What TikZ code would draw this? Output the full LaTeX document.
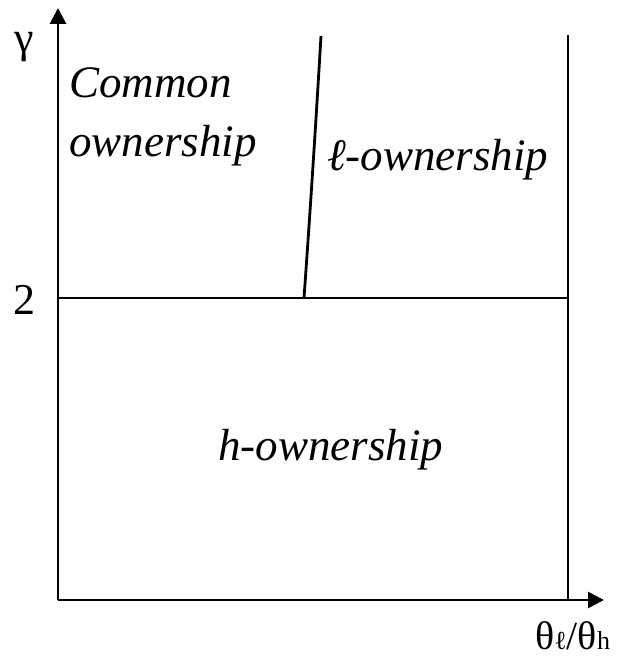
\documentclass[tikz,border=0pt]{standalone}
\usepackage{fontspec}
\setmainfont{Liberation Serif}
\usetikzlibrary{arrows.meta}
\begin{document}
\begin{tikzpicture}[x=1pt,y=-1pt,
  ln/.style={line width=2.8pt},
  axis/.style={ln,-{Triangle[length=16pt,width=16pt]}},
  lbl/.style={font=\fontsize{45}{59}\selectfont\itshape,align=left,inner sep=0pt,anchor=base west},
  ax/.style={font=\fontsize{44}{50}\selectfont,inner sep=0pt}]
\useasboundingbox (0,0) rectangle (626,658);
\coordinate (O) at (58,600);
\coordinate (ytip) at (58,8);
\coordinate (xtip) at (604,600);
\coordinate (rtop) at (568,35);
\coordinate (rbot) at (568,600);
\coordinate (mleft) at (58,298);
\coordinate (mright) at (568,298);
\coordinate (cbot) at (304,298);
\coordinate (ctop) at (321,36);
\draw[axis] (O) -- (ytip);
\draw[axis] (O) -- (xtip);
\draw[ln] (rbot) -- (rtop);
\draw[ln] (mleft) -- (mright);
\draw[ln] (cbot) .. controls (311,200) and (316,120) .. (ctop);
\node[ax] (gam) at (24,47) {γ};
\node[ax,anchor=base] (two) at (24,314) {2};
\node[ax,anchor=base west,font=\fontsize{40}{46}\selectfont] (xl) at (535,649) {θ{\fontsize{26}{30}\selectfont ℓ}/θ{\fontsize{26}{30}\selectfont h}};
\node[lbl] (common) at (69,157) {Common\\ownership};
\node[lbl] (lown) at (327,170) {ℓ-ownership};
\node[lbl] (hown) at (218,460) {h-ownership};
\end{tikzpicture}
\end{document}
